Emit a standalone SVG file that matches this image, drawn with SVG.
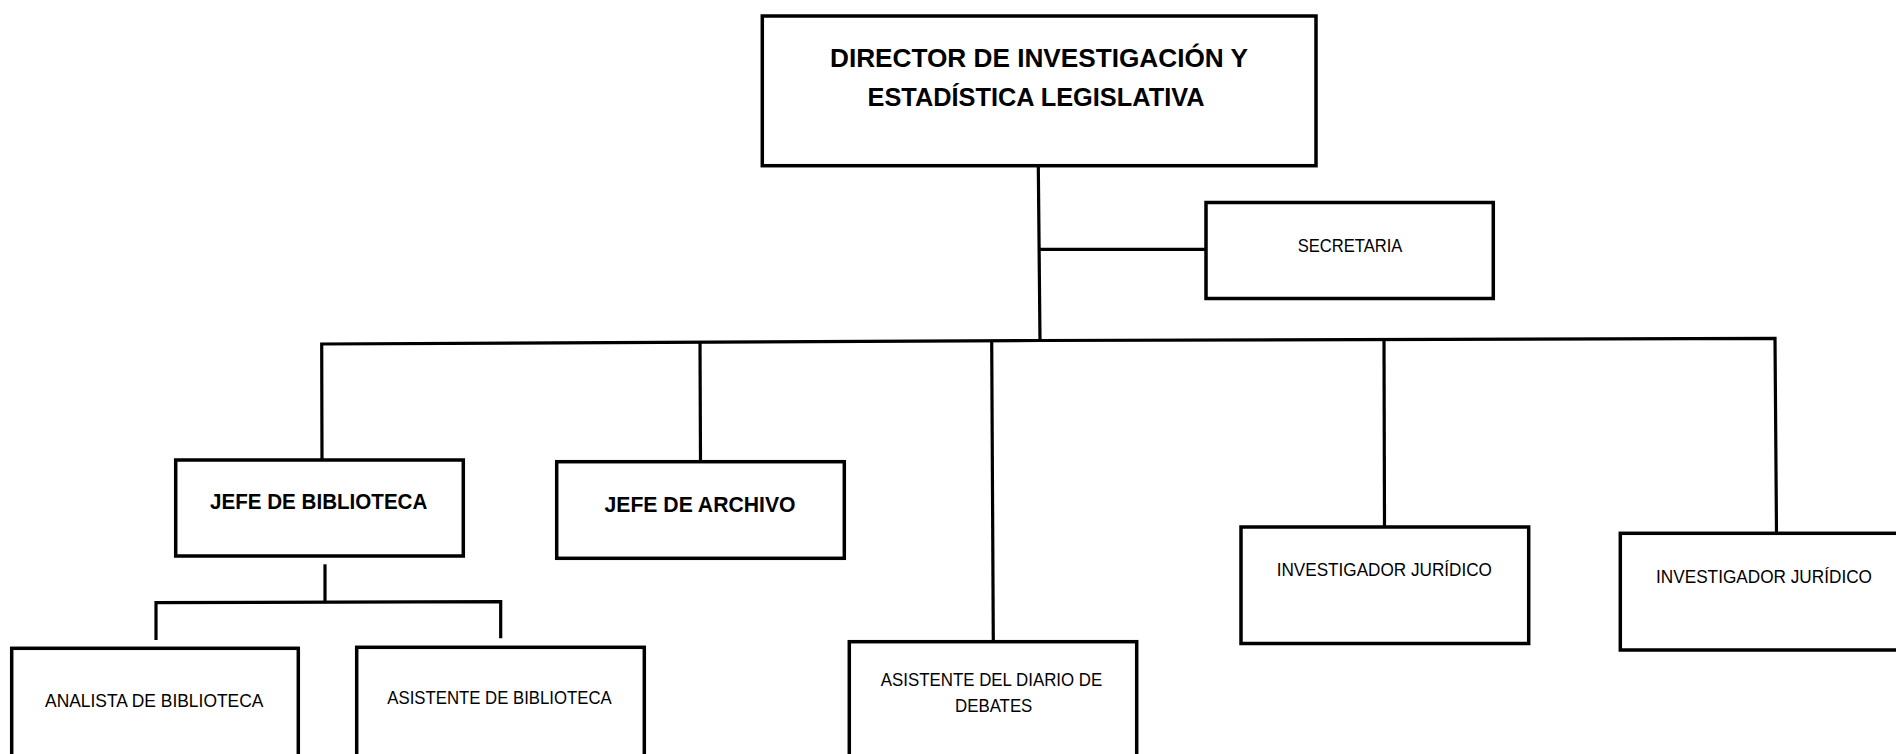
<svg xmlns="http://www.w3.org/2000/svg" width="1896" height="754" viewBox="0 0 1896 754">
<style>
.box{fill:#fff;stroke:#000;stroke-width:3.5;stroke-linejoin:miter}
.con{fill:none;stroke:#000;stroke-width:3.2;stroke-linejoin:miter}
text{font-family:"Liberation Sans",Arial,sans-serif;fill:#000;text-anchor:middle}
.b{font-weight:bold}
.t1{font-size:26.5px}
.t2{font-size:22px}
.t3{font-size:19px}
</style>
<rect width="1896" height="754" fill="#fff"/>
<g id="connectors">
<path class="con" d="M1038.3,166 L1040,340"/>
<path class="con" d="M1040,249.3 L1206,249.3"/>
<path class="con" d="M322,460 L321.7,344 L1040,340.5 L1775,338.3 L1776.5,533.3"/>
<path class="con" d="M700,343 L700.5,461.7"/>
<path class="con" d="M991.7,340.5 L993.3,641.7"/>
<path class="con" d="M1384,340 L1384.5,527"/>
<path class="con" d="M325,564.3 L325,602.5"/>
<path class="con" d="M156,640 L156,602.7 L500.7,601.7 L500.7,638.3"/>
</g>
<g id="director">
<rect class="box" x="762.3" y="16" width="553.7" height="149.7"/>
<text class="b t1" x="1039" y="66.7" textLength="418" lengthAdjust="spacingAndGlyphs">DIRECTOR DE INVESTIGACIÓN Y</text>
<text class="b t1" x="1036" y="106" textLength="337" lengthAdjust="spacingAndGlyphs">ESTADÍSTICA LEGISLATIVA</text>
</g>
<g id="secretaria">
<rect class="box" x="1206" y="202.5" width="287.3" height="96"/>
<text class="t3" x="1350" y="252" textLength="104.7" lengthAdjust="spacingAndGlyphs">SECRETARIA</text>
</g>
<g id="jefe-biblioteca">
<rect class="box" x="175.7" y="460" width="287.6" height="96"/>
<text class="b t2" x="318.7" y="509.3" textLength="217.3" lengthAdjust="spacingAndGlyphs">JEFE DE BIBLIOTECA</text>
</g>
<g id="jefe-archivo">
<rect class="box" x="556.7" y="461.7" width="287.6" height="96.6"/>
<text class="b t2" x="700" y="511.7" textLength="191" lengthAdjust="spacingAndGlyphs">JEFE DE ARCHIVO</text>
</g>
<g id="analista-biblioteca">
<rect class="box" x="11.7" y="648.3" width="286.6" height="200"/>
<text class="t3" x="154.2" y="706.7" textLength="218.3" lengthAdjust="spacingAndGlyphs">ANALISTA DE BIBLIOTECA</text>
</g>
<g id="asistente-biblioteca">
<rect class="box" x="356.7" y="647.3" width="287.6" height="200"/>
<text class="t3" x="499.5" y="704" textLength="224.4" lengthAdjust="spacingAndGlyphs">ASISTENTE DE BIBLIOTECA</text>
</g>
<g id="asistente-diario">
<rect class="box" x="849.3" y="641.7" width="287.4" height="200"/>
<text class="t3" x="991.5" y="685.7" textLength="221.6" lengthAdjust="spacingAndGlyphs">ASISTENTE DEL DIARIO DE</text>
<text class="t3" x="993.7" y="711.7" textLength="77.3" lengthAdjust="spacingAndGlyphs">DEBATES</text>
</g>
<g id="investigador-1">
<rect class="box" x="1241" y="527" width="287.7" height="116.5"/>
<text class="t3" x="1384.3" y="576" textLength="215.3" lengthAdjust="spacingAndGlyphs">INVESTIGADOR JURÍDICO</text>
</g>
<g id="investigador-2">
<rect class="box" x="1620.3" y="533.3" width="288" height="116.7"/>
<text class="t3" x="1764" y="583.3" textLength="216" lengthAdjust="spacingAndGlyphs">INVESTIGADOR JURÍDICO</text>
</g>
</svg>
